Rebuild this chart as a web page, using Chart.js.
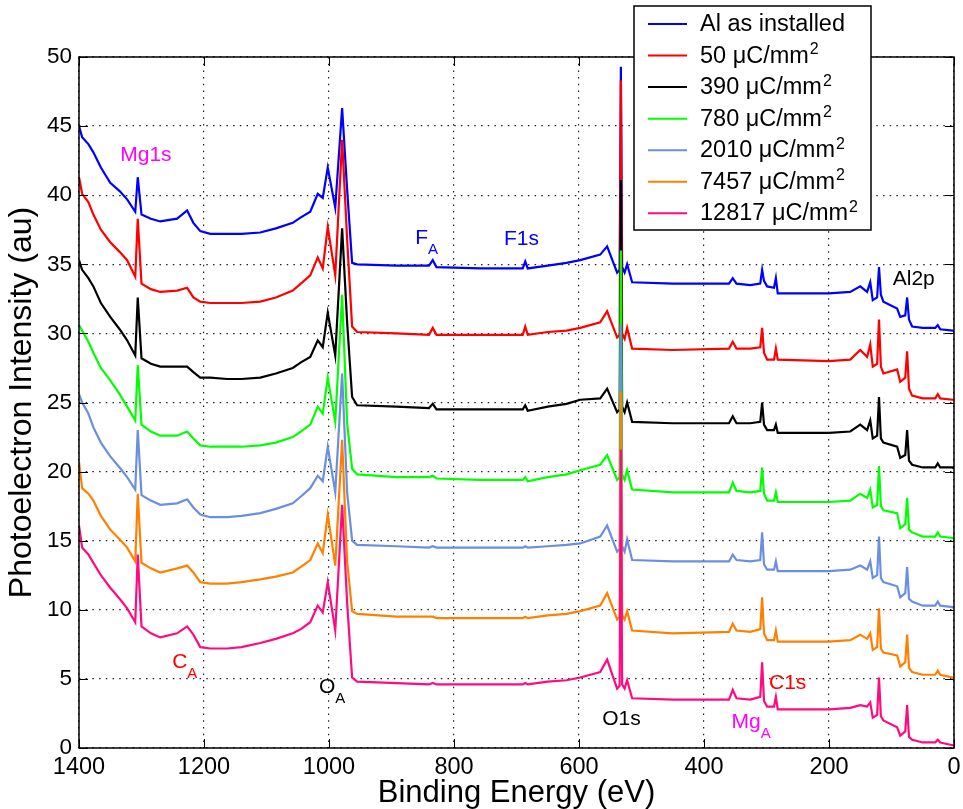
<!DOCTYPE html>
<html>
<head>
<meta charset="utf-8">
<script src="https://cdn.jsdelivr.net/npm/chart.js@4.4.0/dist/chart.umd.min.js"></script>
<style>
html, body { margin: 0; padding: 0; background: #fff; }
</style>
</head>
<body>
<canvas id="xps" width="963" height="809"></canvas>
<script>
// binding energy grid (eV) shared by all spectra
const energy = [1400, 1395, 1385, 1377, 1365, 1350, 1335, 1323, 1310, 1306,
                1300, 1285, 1270, 1243, 1227, 1217, 1206, 1190, 1163, 1140,
                1110, 1085, 1058, 1045, 1030, 1018, 1010, 1002, 990, 979,
                971, 963, 955, 892, 840, 834, 828, 758, 690, 686,
                682, 650, 620, 598, 566, 555, 539, 535, 533, 531,
                527, 523, 515, 450, 360, 354, 348, 326, 310, 307,
                304, 299, 288, 285, 282, 200, 166, 150, 139, 134,
                130, 123, 120, 117, 113, 91, 86, 78, 75, 72,
                67, 50, 30, 26, 22, 2, 0];

const al_installed = [45.0, 44.2, 43.7, 43.1, 42.0, 40.9, 40.3, 39.7, 38.8, 41.3,
                      38.6, 38.3, 38.1, 38.3, 38.9, 38.0, 37.4, 37.2, 37.2, 37.2,
                      37.3, 37.6, 38.0, 38.4, 38.8, 40.1, 39.8, 42.0, 39.1, 46.3,
                      40.4, 35.1, 35.0, 34.9, 34.9, 35.3, 34.8, 34.7, 34.7, 35.2,
                      34.7, 34.9, 35.1, 35.3, 35.7, 36.3, 34.4, 34.6, 49.3, 34.8,
                      34.4, 35.0, 33.7, 33.6, 33.6, 34.0, 33.6, 33.5, 33.6, 34.6,
                      33.8, 33.4, 33.3, 34.0, 32.9, 32.9, 33.0, 33.4, 33.0, 33.7,
                      32.4, 32.6, 34.8, 32.8, 32.3, 31.8, 31.2, 31.3, 32.6, 31.0,
                      30.5, 30.4, 30.4, 30.6, 30.3, 30.2, 30.2];

const dose_50 = [41.3, 40.1, 39.5, 38.6, 37.5, 36.6, 35.9, 35.3, 34.1, 38.3,
                 33.6, 33.2, 33.0, 33.1, 33.3, 32.6, 32.3, 32.2, 32.2, 32.2,
                 32.3, 32.6, 33.1, 33.6, 34.2, 35.5, 34.7, 37.7, 34.2, 44.0,
                 36.8, 30.5, 30.1, 30.0, 29.9, 30.4, 29.9, 29.9, 29.9, 30.5,
                 29.9, 30.1, 30.2, 30.4, 30.8, 31.6, 29.7, 29.9, 48.3, 30.0,
                 29.6, 30.4, 28.9, 28.8, 28.9, 29.4, 28.9, 28.9, 29.0, 30.4,
                 28.6, 28.1, 28.1, 28.9, 28.1, 28.0, 28.1, 28.8, 28.3, 29.2,
                 27.6, 27.8, 31.0, 27.6, 27.1, 27.4, 26.5, 26.8, 28.7, 26.0,
                 25.5, 25.3, 25.3, 25.6, 25.3, 25.2, 25.2];

const dose_390 = [35.3, 34.6, 34.0, 33.4, 32.2, 31.2, 30.3, 29.5, 28.4, 32.6,
                  28.2, 27.8, 27.6, 27.6, 27.6, 27.2, 26.8, 26.8, 26.7, 26.7,
                  26.8, 27.1, 27.5, 27.9, 28.3, 29.5, 29.0, 31.5, 28.4, 37.6,
                  30.8, 25.4, 24.8, 24.7, 24.6, 24.9, 24.5, 24.5, 24.5, 24.8,
                  24.4, 24.7, 24.9, 25.2, 25.3, 26.0, 24.3, 24.5, 41.1, 24.7,
                  24.3, 25.0, 23.6, 23.5, 23.5, 24.0, 23.5, 23.5, 23.6, 25.0,
                  23.4, 23.0, 23.0, 23.4, 22.8, 22.8, 22.9, 23.4, 23.0, 23.7,
                  22.4, 22.6, 25.4, 22.4, 22.1, 21.8, 21.0, 21.2, 23.0, 20.8,
                  20.5, 20.3, 20.3, 20.6, 20.3, 20.3, 20.2];

const dose_780 = [30.6, 30.2, 29.4, 28.6, 27.5, 26.6, 25.6, 24.7, 23.7, 27.7,
                  23.4, 22.9, 22.6, 22.6, 22.9, 22.4, 21.9, 21.8, 21.8, 21.8,
                  21.9, 22.1, 22.5, 22.9, 23.4, 24.7, 24.2, 26.8, 23.6, 32.8,
                  23.5, 20.2, 19.8, 19.6, 19.6, 19.7, 19.5, 19.4, 19.4, 19.6,
                  19.3, 19.6, 19.8, 20.1, 20.5, 21.2, 19.4, 19.6, 36.0, 19.8,
                  19.4, 20.1, 18.7, 18.5, 18.5, 19.2, 18.6, 18.5, 18.6, 20.3,
                  18.4, 17.9, 17.9, 18.5, 17.8, 17.8, 17.9, 18.4, 18.1, 18.7,
                  17.4, 17.6, 20.4, 17.5, 17.2, 17.0, 15.9, 16.2, 18.1, 15.8,
                  15.6, 15.3, 15.3, 15.6, 15.3, 15.2, 15.1];

const dose_2010 = [25.6, 25.0, 24.2, 23.2, 22.1, 21.1, 20.3, 19.6, 18.7, 23.0,
                   18.3, 17.9, 17.6, 17.7, 18.0, 17.4, 16.9, 16.7, 16.7, 16.8,
                   17.0, 17.3, 17.7, 18.2, 18.8, 19.7, 19.3, 21.8, 18.5, 27.1,
                   18.5, 15.0, 14.7, 14.6, 14.5, 14.6, 14.5, 14.5, 14.5, 14.6,
                   14.5, 14.6, 14.7, 14.8, 15.3, 16.1, 14.2, 14.4, 30.6, 14.6,
                   14.2, 15.1, 13.6, 13.5, 13.5, 14.0, 13.6, 13.5, 13.6, 15.6,
                   13.3, 12.9, 12.9, 13.5, 12.8, 12.8, 12.9, 13.2, 12.9, 13.5,
                   12.3, 12.5, 15.3, 12.3, 12.0, 11.7, 10.9, 11.2, 13.1, 10.8,
                   10.6, 10.3, 10.3, 10.6, 10.3, 10.2, 10.1];

const dose_7457 = [20.7, 18.8, 18.4, 17.9, 16.8, 15.8, 15.1, 14.5, 13.5, 18.4,
                   13.4, 13.0, 12.7, 13.0, 13.2, 12.7, 12.0, 11.9, 11.9, 12.0,
                   12.2, 12.4, 12.7, 13.1, 13.6, 14.8, 14.1, 16.9, 13.2, 22.3,
                   13.5, 9.9, 9.7, 9.5, 9.5, 9.5, 9.4, 9.4, 9.4, 9.5,
                   9.4, 9.6, 9.7, 9.9, 10.3, 11.2, 9.3, 9.5, 25.8, 9.6,
                   9.3, 9.9, 8.5, 8.3, 8.4, 9.0, 8.5, 8.4, 8.6, 10.9,
                   8.3, 7.8, 7.8, 8.5, 7.7, 7.7, 7.8, 8.2, 7.9, 8.3,
                   7.1, 7.3, 10.1, 7.2, 6.9, 6.7, 5.9, 6.2, 8.2, 5.8,
                   5.5, 5.3, 5.3, 5.6, 5.3, 5.1, 5.0];

const dose_12817 = [16.1, 14.5, 14.0, 13.4, 12.5, 11.6, 10.8, 10.1, 9.1, 14.0,
                    8.8, 8.3, 8.0, 8.3, 8.8, 8.2, 7.3, 7.2, 7.2, 7.3,
                    7.6, 7.9, 8.3, 8.6, 9.1, 10.3, 9.8, 12.0, 8.5, 17.6,
                    10.5, 5.1, 4.8, 4.7, 4.6, 4.7, 4.6, 4.6, 4.6, 4.7,
                    4.6, 4.8, 4.9, 5.1, 5.5, 6.4, 4.3, 4.5, 21.6, 4.6,
                    4.3, 4.9, 3.6, 3.5, 3.5, 4.2, 3.6, 3.5, 3.7, 6.2,
                    3.4, 3.0, 3.0, 3.7, 2.8, 2.8, 2.9, 3.1, 3.0, 3.3,
                    2.2, 2.4, 5.1, 2.3, 2.0, 1.5, 0.9, 1.2, 3.1, 0.8,
                    0.6, 0.4, 0.4, 0.6, 0.4, 0.2, 0.2];

const series_labels = ['Al as installed', '50 μC/mm²', '390 μC/mm²', '780 μC/mm²',
                       '2010 μC/mm²', '7457 μC/mm²', '12817 μC/mm²'];
const series_values = [al_installed, dose_50, dose_390, dose_780, dose_2010, dose_7457, dose_12817];

const x_ticks = [0, 200, 400, 600, 800, 1000, 1200, 1400];
const y_ticks = [0, 5, 10, 15, 20, 25, 30, 35, 40, 45, 50];

// peak labels: text, subscript, energy, intensity
const peak_text = ['Mg1s', 'C', 'O', 'F', 'F1s', 'O1s', 'Mg', 'C1s', 'Al2p'];
const peak_sub = ['', 'A', 'A', 'A', '', '', 'A', '', ''];
const peak_energy = [1334, 1251, 1016, 862, 720, 563, 356, 296, 98];
const peak_level = [42.5, 5.8, 4.0, 36.5, 36.4, 1.66, 1.45, 4.3, 33.5];

const colors = ['#0000ff', '#ff0000', '#000000', '#00ff00', '#6a8ee0', '#ff8000', '#ff0a80'];
const peak_colors = ['#ff00ff', '#ff0000', '#000000', '#0000ff', '#0000ff', '#000000', '#ff00ff', '#ff0000', '#000000'];

const FONT = '"Liberation Sans", Arial, Helvetica, sans-serif';

const frame = {
    id: 'frame',
    afterDatasetsDraw(chart) {
        const {ctx, chartArea: a, scales: {x, y}} = chart;
        ctx.save();
        ctx.strokeStyle = '#000';
        ctx.lineWidth = 1;
        ctx.beginPath();
        x_ticks.forEach(v => {
            const px = Math.round(x.getPixelForValue(v)) + 0.5;
            ctx.moveTo(px, a.bottom); ctx.lineTo(px, a.bottom - 9);
            ctx.moveTo(px, a.top); ctx.lineTo(px, a.top + 9);
        });
        y_ticks.forEach(v => {
            const py = Math.round(y.getPixelForValue(v)) + 0.5;
            ctx.moveTo(a.left, py); ctx.lineTo(a.left + 9, py);
            ctx.moveTo(a.right, py); ctx.lineTo(a.right - 9, py);
        });
        ctx.stroke();
        ctx.lineWidth = 1.5;
        ctx.strokeRect(a.left, a.top, a.right - a.left, a.bottom - a.top);

        // peak labels
        ctx.textAlign = 'left';
        ctx.textBaseline = 'alphabetic';
        peak_text.forEach((t, i) => {
            const px = x.getPixelForValue(peak_energy[i]);
            const py = y.getPixelForValue(peak_level[i]);
            ctx.fillStyle = peak_colors[i];
            ctx.font = '21px ' + FONT;
            ctx.fillText(t, px, py);
            if (peak_sub[i]) {
                const w = ctx.measureText(t).width;
                ctx.font = '15px ' + FONT;
                ctx.fillText(peak_sub[i], px + w, py + 10);
            }
        });
        ctx.restore();
    },
    afterDraw(chart) {
        const ctx = chart.ctx;
        ctx.save();
        ctx.fillStyle = '#fff';
        ctx.fillRect(634, 6, 237, 224);
        ctx.strokeStyle = '#000';
        ctx.lineWidth = 1.5;
        ctx.strokeRect(634, 6, 237, 224);
        ctx.textAlign = 'left';
        ctx.textBaseline = 'alphabetic';
        chart.data.datasets.forEach((ds, i) => {
            const ly = 24 + i * 31.55;
            ctx.strokeStyle = ds.borderColor;
            ctx.lineWidth = 2;
            ctx.beginPath();
            ctx.moveTo(648, ly); ctx.lineTo(687, ly);
            ctx.stroke();
            ctx.fillStyle = '#000';
            ctx.font = '23.5px ' + FONT;
            const parts = ds.label.split('²');
            ctx.fillText(parts[0], 700, ly + 7);
            if (parts.length > 1) {
                const w = ctx.measureText(parts[0]).width;
                ctx.font = '16px ' + FONT;
                ctx.fillText('2', 700 + w + 1, ly - 1.5);
            }
        });
        ctx.restore();
    }
};

const ctx_xps = document.getElementById('xps');
const xps = new Chart(ctx_xps, {
    type: 'line',
    data: {
        datasets: series_values.map((vals, i) => ({
            label: series_labels[i],
            data: vals.map((v, k) => ({x: energy[k], y: v})),
            borderColor: colors[i],
            backgroundColor: colors[i],
            borderWidth: 2.2,
            pointRadius: 0,
            tension: 0,
            order: series_values.length - i,
        })),
    },
    options: {
        responsive: false,
        animation: false,
        layout: { padding: { top: 57, right: 9, left: 0, bottom: 0 } },
        scales: {
            x: {
                type: 'linear',
                reverse: true,
                min: 0,
                max: 1400,
                afterFit: s => { s.height = 61; },
                afterBuildTicks: s => { s.ticks = x_ticks.map(v => ({value: v})); },
                ticks: { color: '#000', font: { family: FONT, size: 23.5 }, padding: 5, maxRotation: 0, autoSkip: false,
                         callback: v => String(v) },
                grid: { color: '#222', lineWidth: 1.2, drawTicks: false },
                border: { display: false, dash: [1.5, 5.2] },
                title: { display: true, text: 'Binding Energy (eV)', color: '#000',
                         font: { family: FONT, size: 31, lineHeight: 1 }, padding: { top: 0, bottom: 0 } },
            },
            y: {
                min: 0,
                max: 50,
                afterFit: s => { s.width = 79; },
                afterBuildTicks: s => { s.ticks = y_ticks.map(v => ({value: v})); },
                ticks: { color: '#000', font: { family: FONT, size: 22.5 }, padding: 7, autoSkip: false,
                         callback: v => String(v) },
                grid: { color: '#222', lineWidth: 1.2, drawTicks: false },
                border: { display: false, dash: [1.5, 5.2] },
                title: { display: true, text: 'Photoelectron Intensity (au)', color: '#000',
                         font: { family: FONT, size: 32, lineHeight: 1 }, padding: { top: 6, bottom: 0 } },
            },
        },
        plugins: {
            legend: { display: false },
            tooltip: { enabled: false },
        },
    },
    plugins: [frame],
});
</script>
</body>
</html>
